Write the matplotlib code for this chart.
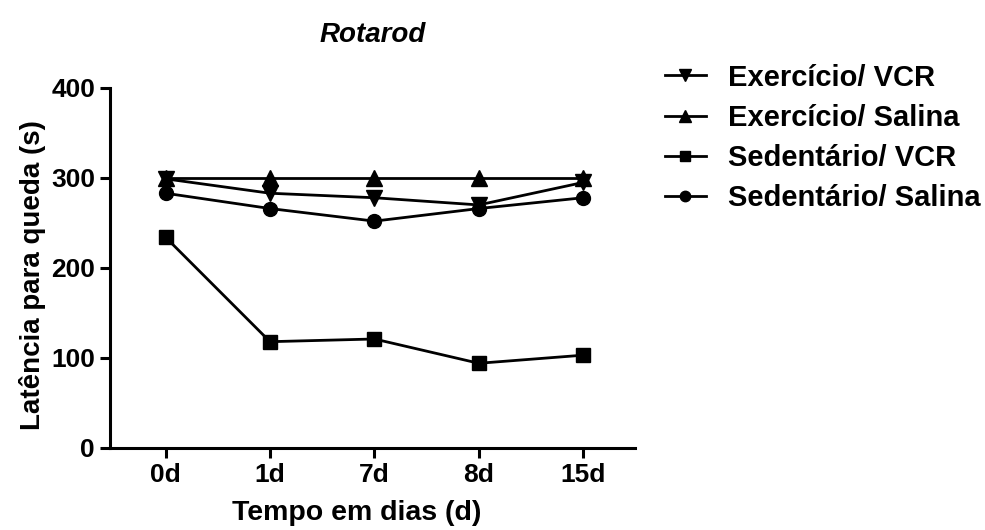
import matplotlib.pyplot as plt

plt.rcParams['font.family'] = ['Liberation Sans', 'DejaVu Sans']
plt.rcParams['font.weight'] = 'bold'

dias = ['0d', '1d', '7d', '8d', '15d']
exercicio_vcr = [299, 283, 278, 270, 295]
exercicio_salina = [300, 300, 300, 300, 300]
sedentario_vcr = [234, 118, 121, 94, 103]
sedentario_salina = [283, 266, 252, 266, 278]

fig = plt.figure(figsize=(9.85, 5.3), dpi=100)
ax = fig.add_axes([0.112, 0.155, 0.533, 0.679])

x = range(len(dias))
ax.plot(x, exercicio_vcr, color='black', lw=2, marker='v', ms=11, label='Exercício/ VCR')
ax.plot(x, exercicio_salina, color='black', lw=2, marker='^', ms=11, label='Exercício/ Salina')
ax.plot(x, sedentario_vcr, color='black', lw=2, marker='s', ms=10, label='Sedentário/ VCR')
ax.plot(x, sedentario_salina, color='black', lw=2, marker='o', ms=10, label='Sedentário/ Salina')

ax.set_xlim(-0.53, 4.5)
ax.set_ylim(0, 400)
ax.set_yticks([0, 100, 200, 300, 400])
ax.set_xticks(list(x))
ax.set_xticklabels(dias)
ax.spines['top'].set_visible(False)
ax.spines['right'].set_visible(False)
ax.spines['left'].set_linewidth(2.2)
ax.spines['bottom'].set_linewidth(2.2)
ax.tick_params(width=2.2, length=7, labelsize=19, pad=4)
for t in ax.get_xticklabels() + ax.get_yticklabels():
    t.set_fontweight('bold')

ax.set_xlabel('Tempo em dias (d)', fontsize=20.5, fontweight='bold')
ax.xaxis.set_label_coords(0.47, -0.145)
ax.set_ylabel('Latência para queda (s)', fontsize=20, fontweight='bold')
ax.yaxis.set_label_coords(-0.123, 0.48)
ax.set_title('Rotarod', fontsize=20, fontweight='bold', style='italic', pad=33)

leg = fig.legend(loc='upper left', bbox_to_anchor=(0.675, 0.88), frameon=False,
                 fontsize=21, handlelength=1.4, handletextpad=0.75, labelspacing=0.42,
                 borderpad=0, borderaxespad=0, markerscale=0.75)

fig.savefig('out.png', dpi=100)
